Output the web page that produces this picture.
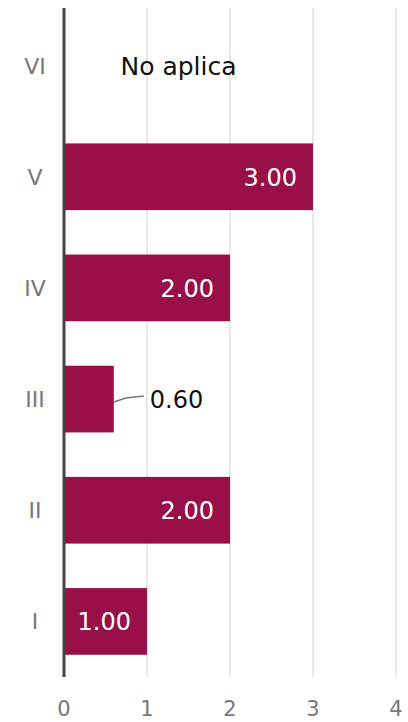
<!DOCTYPE html>
<html>
<head>
<meta charset="utf-8">
<script src="https://cdn.jsdelivr.net/npm/d3@7"></script>
<style>
  body { margin: 0; background: #fff; }
  text { font-family: "DejaVu Sans", sans-serif; }
</style>
</head>
<body>
<script>
// data
var categories = ["VI", "V", "IV", "III", "II", "I"];
var values = [null, 3.0, 2.0, 0.6, 2.0, 1.0];
var labels = ["No aplica", "3.00", "2.00", "0.60", "2.00", "1.00"];
var xTicks = [0, 1, 2, 3, 4];

var width = 408;
var height = 722;
var margin = { top: 10, right: 12, bottom: 45, left: 64 };

const svg = d3
  .select("body")
  .append("svg")
  .attr("width", width)
  .attr("height", height);

const x = d3
  .scaleLinear()
  .domain([0, 4])
  .range([margin.left, 396]);

const y = d3
  .scaleBand()
  .domain(categories)
  .range([margin.top, height - margin.bottom])
  .paddingInner(0.4)
  .paddingOuter(0.2);

// grid lines
svg
  .append("g")
  .selectAll("line")
  .data(xTicks.slice(1))
  .enter()
  .append("line")
  .attr("x1", d => x(d))
  .attr("x2", d => x(d))
  .attr("y1", 8)
  .attr("y2", height - margin.bottom)
  .attr("stroke", "#d0d0d0")
  .attr("stroke-width", 1);

// x tick labels
svg
  .append("g")
  .selectAll("text")
  .data(xTicks)
  .enter()
  .append("text")
  .attr("x", d => x(d))
  .attr("y", 716)
  .attr("text-anchor", "middle")
  .attr("font-size", 21)
  .attr("fill", "#777")
  .text(d => d);

// bars
var rows = categories.map((c, i) => ({ cat: c, value: values[i], label: labels[i] }));

svg
  .append("g")
  .selectAll("rect")
  .data(rows.filter(d => d.value != null))
  .enter()
  .append("rect")
  .attr("x", x(0))
  .attr("y", d => y(d.cat))
  .attr("width", d => x(d.value) - x(0))
  .attr("height", y.bandwidth())
  .attr("fill", "#990f47");

// category labels
svg
  .append("g")
  .selectAll("text")
  .data(categories)
  .enter()
  .append("text")
  .attr("x", 35)
  .attr("y", d => y(d) + y.bandwidth() / 2 + 8)
  .attr("text-anchor", "middle")
  .attr("font-size", 22)
  .attr("fill", "#777")
  .text(d => d);

// value labels
rows.forEach(function (d) {
  var cy = y(d.cat) + y.bandwidth() / 2 + 9;
  if (d.value == null) {
    svg.append("text")
      .attr("x", x(0.68))
      .attr("y", cy)
      .attr("font-size", 25)
      .attr("fill", "#111")
      .text(d.label);
  } else if (x(d.value) - x(0) < 70) {
    svg.append("path")
      .attr("d", "M" + x(d.value) + "," + (cy - 6) + " L" + (x(d.value) + 12) + "," + (cy - 10) + " L" + (x(d.value) + 30) + "," + (cy - 12))
      .attr("fill", "none")
      .attr("stroke", "#777")
      .attr("stroke-width", 1.5);
    svg.append("text")
      .attr("x", x(d.value) + 36)
      .attr("y", cy)
      .attr("font-size", 24)
      .attr("fill", "#111")
      .text(d.label);
  } else {
    svg.append("text")
      .attr("x", x(d.value) - 16)
      .attr("y", cy)
      .attr("text-anchor", "end")
      .attr("font-size", 24)
      .attr("fill", "#fff")
      .text(d.label);
  }
});

// zero axis line
svg
  .append("line")
  .attr("x1", x(0))
  .attr("x2", x(0))
  .attr("y1", 8)
  .attr("y2", height - margin.bottom)
  .attr("stroke", "#444")
  .attr("stroke-width", 3);
</script>
</body>
</html>
